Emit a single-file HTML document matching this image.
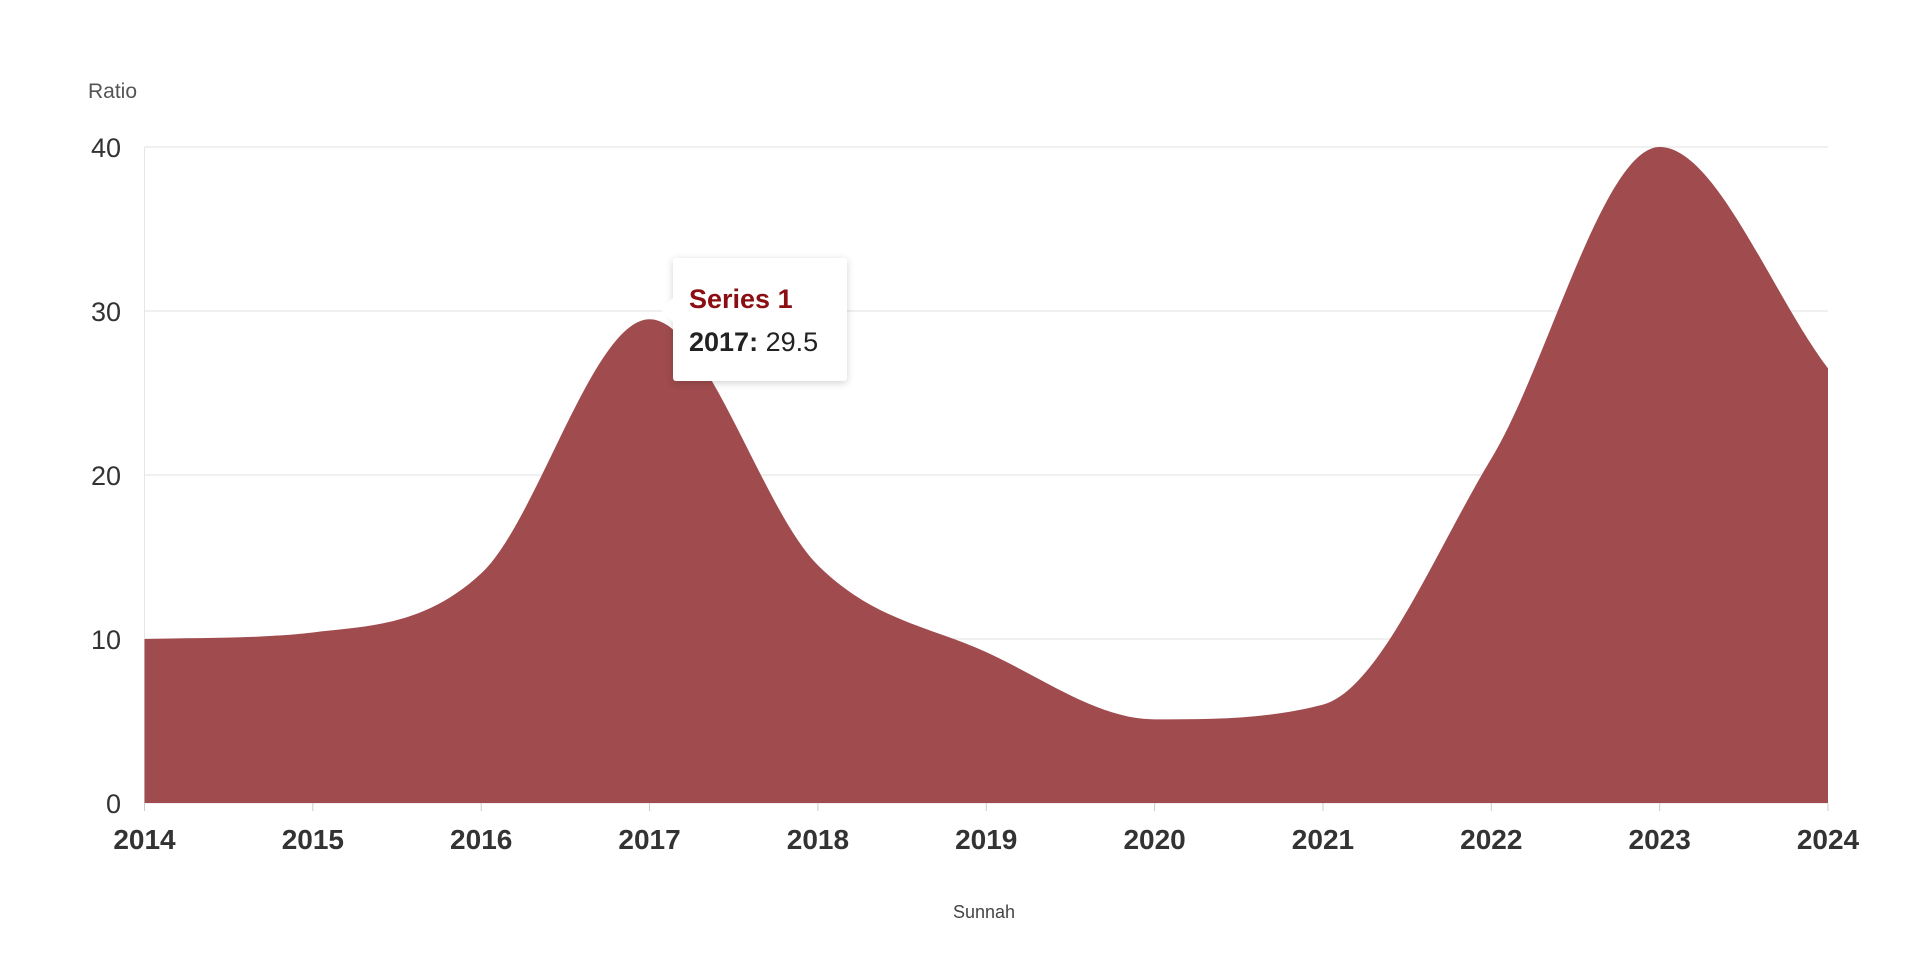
<!DOCTYPE html>
<html><head><meta charset="utf-8"><style>
html,body{margin:0;padding:0;background:#fff;width:1920px;height:976px;overflow:hidden}
svg{display:block;font-family:"Liberation Sans",sans-serif}
.tip{position:absolute;left:673px;top:258px;width:174px;height:123px;background:#fff;box-shadow:0 2px 8px rgba(0,0,0,.18);border-radius:3px;font-family:"Liberation Sans",sans-serif;box-sizing:border-box;padding:26px 0 0 16px}
.tip:before{content:"";position:absolute;left:-12px;top:40px;border:12px solid transparent;border-left:0;border-right-color:#fff}
</style></head><body>
<svg id="s" width="1920" height="976"></svg>
<div class="tip"><div style="color:#8b0e12;font-weight:bold;font-size:27px">Series 1</div><div style="color:#222;font-size:27px;margin-top:12px"><b>2017:</b> 29.5</div></div>
<script>
var X0=144.5,X1=1828,Y0=803,Y40=147;
var d=[10,10.4,14,29.5,14.5,9.2,5.1,6,21,40,26.5];
function x(i){return X0+(X1-X0)*i/10}
function y(v){return Y0+(Y40-Y0)*v/40}
var s='';
for(var k=0;k<=4;k++){var yy=y(k*10);s+='<line x1="'+X0+'" x2="'+X1+'" y1="'+yy+'" y2="'+yy+'" stroke="#e6e6e6" stroke-width="1.3"/>';
s+='<text x="121" y="'+(yy+10)+'" text-anchor="end" font-size="27" fill="#333">'+k*10+'</text>';}
s+='<line x1="'+X0+'" x2="'+X0+'" y1="'+Y40+'" y2="'+Y0+'" stroke="#e6e6e6"/>';
var n=d.length,P=d.map(function(v,i){return [x(i),y(v)]}),m=[],dl=[];
for(var i=0;i<n-1;i++)dl.push((P[i+1][1]-P[i][1])/(P[i+1][0]-P[i][0]));
m[0]=dl[0];m[n-1]=dl[n-2];
for(i=1;i<n-1;i++){m[i]=dl[i-1]*dl[i]<=0?0:(dl[i-1]+dl[i])/2;}
for(i=0;i<n-1;i++){if(dl[i]==0){m[i]=m[i+1]=0;continue}var a=m[i]/dl[i],b=m[i+1]/dl[i],h=a*a+b*b;if(h>9){var t=3/Math.sqrt(h);m[i]=t*a*dl[i];m[i+1]=t*b*dl[i];}}
var p='M'+X0+','+Y0+'L'+P[0][0]+','+P[0][1];
for(i=0;i<n-1;i++){var dx=(P[i+1][0]-P[i][0])/3;p+='C'+(P[i][0]+dx)+','+(P[i][1]+m[i]*dx)+' '+(P[i+1][0]-dx)+','+(P[i+1][1]-m[i+1]*dx)+' '+P[i+1][0]+','+P[i+1][1];}
p+='L'+X1+','+Y0+'Z';
s+='<path d="'+p+'" fill="#a04b4e"/>';
for(i=0;i<n;i++){s+='<line x1="'+x(i)+'" x2="'+x(i)+'" y1="'+Y0+'" y2="'+(Y0+8)+'" stroke="#ccc"/>';
s+='<text x="'+x(i)+'" y="849" text-anchor="middle" font-size="28" font-weight="bold" fill="#333">'+(2014+i)+'</text>';}
s+='<text x="88" y="98" font-size="21" fill="#555">Ratio</text>';
s+='<text x="984" y="918" text-anchor="middle" font-size="18" fill="#444">Sunnah</text>';
document.getElementById('s').innerHTML=s;
</script>
</body></html>
